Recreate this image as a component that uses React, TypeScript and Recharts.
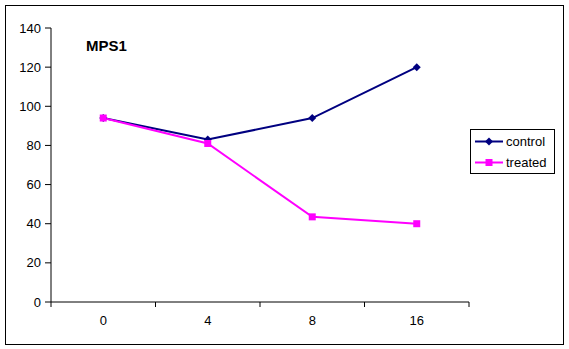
import { LineChart, Line, XAxis, YAxis } from 'recharts';

const categories = ['0', '4', '8', '16'];
const control = [94, 83, 94, 120];
const treated = [94, 81, 43.5, 40];
const yTicks = [0, 20, 40, 60, 80, 100, 120, 140];

const data = categories.map((label, i) => ({
    idx: i + 0.5,
    label,
    control: control[i],
    treated: treated[i],
}));

const xTicks = [0, 0.5, 1, 1.5, 2, 2.5, 3, 3.5, 4];
const font = '"Liberation Sans", Arial, sans-serif';

const XTick = (props: any) => {
    const { x, y, payload } = props;
    const v = payload.value;
    if (Number.isInteger(v)) {
        return <line x1={x} x2={x} y1={y} y2={y + 5} stroke="#000" />;
    }
    return (
        <text x={x} y={y + 23} textAnchor="middle" fontSize={13} fontFamily={font} fill="#000">
            {categories[Math.floor(v)]}
        </text>
    );
};

const Diamond = (props: any) => {
    const { cx, cy, fill } = props;
    if (cx == null || cy == null) return null;
    return <path d={`M${cx},${cy - 4}L${cx + 4},${cy}L${cx},${cy + 4}L${cx - 4},${cy}Z`} fill={fill} />;
};

const Square = (props: any) => {
    const { cx, cy, fill } = props;
    if (cx == null || cy == null) return null;
    return <rect x={cx - 3.5} y={cy - 3.5} width={7} height={7} fill={fill} />;
};

const LegendBox = () => (
    <div
        style={{
            position: 'absolute',
            left: 470,
            top: 129,
            border: '1px solid #000',
            background: '#fff',
            width: 85,
            height: 45,
            fontFamily: font,
            fontSize: 13,
            boxSizing: 'border-box',
        }}
    >
        {[
            { name: 'control', color: '#000080', marker: 'diamond' },
            { name: 'treated', color: '#FF00FF', marker: 'square' },
        ].map((s, i) => (
            <div key={s.name} style={{ display: 'flex', alignItems: 'center', height: 21, marginTop: i === 0 ? 1 : 0 }}>
                <svg width={34} height={21}>
                    <line x1={4} x2={32} y1={10.5} y2={10.5} stroke={s.color} strokeWidth={2} />
                    {s.marker === 'diamond' ? (
                        <path d="M18,6.5L22,10.5L18,14.5L14,10.5Z" fill={s.color} />
                    ) : (
                        <rect x={14.5} y={7} width={7} height={7} fill={s.color} />
                    )}
                </svg>
                <span style={{ marginLeft: 1 }}>{s.name}</span>
            </div>
        ))}
    </div>
);

export default function App() {
    return (
        <div style={{ position: 'absolute', left: 0, top: 0, width: 569, height: 349, background: '#fff' }}>
            <div
                style={{
                    position: 'absolute',
                    left: 5,
                    top: 5,
                    width: 559,
                    height: 340,
                    border: '1px solid #000',
                    boxSizing: 'border-box',
                }}
            />
            <LineChart
                width={569}
                height={349}
                data={data}
                margin={{ top: 28, right: 100, bottom: 17, left: 11 }}
                style={{ position: 'absolute', left: 0, top: 0 }}
            >
                <XAxis
                    type="number"
                    dataKey="idx"
                    domain={[0, 4]}
                    ticks={xTicks}
                    interval={0}
                    tickLine={false}
                    tickSize={0}
                    tickMargin={0}
                    tick={<XTick />}
                    axisLine={{ stroke: '#000' }}
                    height={30}
                />
                <YAxis
                    domain={[0, 140]}
                    ticks={yTicks}
                    interval={0}
                    width={40}
                    tickSize={6}
                    tickMargin={4}
                    tickLine={{ stroke: '#000' }}
                    axisLine={{ stroke: '#000' }}
                    tick={{ fill: '#000', fontSize: 13, fontFamily: font }}
                />
                <Line
                    dataKey="control"
                    stroke="#000080"
                    strokeWidth={2}
                    dot={<Diamond fill="#000080" />}
                    isAnimationActive={false}
                />
                <Line
                    dataKey="treated"
                    stroke="#FF00FF"
                    strokeWidth={2}
                    dot={<Square fill="#FF00FF" />}
                    isAnimationActive={false}
                />
                <text x={86} y={51} fontSize={15} fontWeight="bold" fontFamily={font} fill="#000">
                    MPS1
                </text>
            </LineChart>
            <LegendBox />
        </div>
    );
}
